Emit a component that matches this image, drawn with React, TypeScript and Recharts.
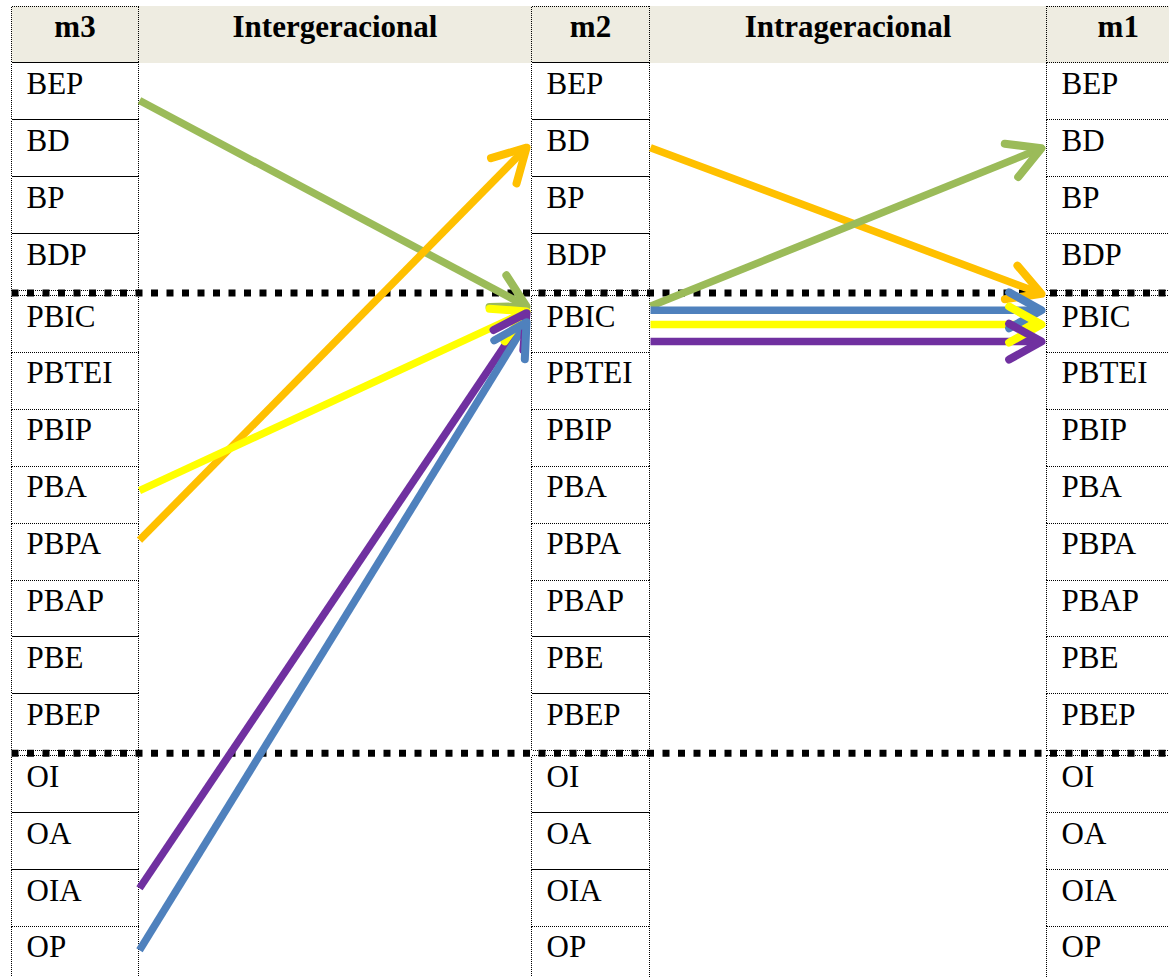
import React from "react";
import { ComposedChart, XAxis, YAxis, Line, ReferenceArea, ReferenceLine } from "recharts";

// Row labels (same in every label column)
const ROWS = [
  "BEP", "BD", "BP", "BDP",
  "PBIC", "PBTEI", "PBIP", "PBA", "PBPA", "PBAP", "PBE", "PBEP",
  "OI", "OA", "OIA", "OP",
];
// thick dashed separator sits above these rows
const GROUP_STARTS = ["PBIC", "OI"];

const LABEL_COLUMNS = ["m3", "m2", "m1"];
const STAGE_COLUMNS = ["Intergeracional", "Intrageracional"];

// Moves: row + position inside the row (0 = top, 1 = bottom)
type Move = { id: string; from: string; fromPos: number; to: string; toPos: number };

const INTER_MOVES: Move[] = [
  { id: "green", from: "BEP", fromPos: 0.66, to: "PBIC", toPos: 0.19 },
  { id: "orange", from: "PBPA", fromPos: 0.3, to: "BD", toPos: 0.49 },
  { id: "yellow", from: "PBA", fromPos: 0.43, to: "PBIC", toPos: 0.28 },
  { id: "purple", from: "OIA", fromPos: 0.33, to: "PBIC", toPos: 0.31 },
  { id: "blue", from: "OP", fromPos: 0.42, to: "PBIC", toPos: 0.47 },
];

const INTRA_MOVES: Move[] = [
  { id: "orange", from: "BD", fromPos: 0.49, to: "PBIC", toPos: -0.03 },
  { id: "green", from: "PBIC", fromPos: 0.19, to: "BD", toPos: 0.5 },
  { id: "blue", from: "PBIC", fromPos: 0.26, to: "PBIC", toPos: 0.26 },
  { id: "yellow", from: "PBIC", fromPos: 0.51, to: "PBIC", toPos: 0.51 },
  { id: "purple", from: "PBIC", fromPos: 0.81, to: "PBIC", toPos: 0.81 },
];

const MOVE_COLORS: Record<string, string> = {
  green: "#9BBB59",
  orange: "#FFC000",
  yellow: "#FFFF00",
  purple: "#7030A0",
  blue: "#4F81BD",
};

// layout
const WIDTH = 1169;
const HEIGHT = 977;
const ROW_PX = 56.9;
const GAP = 5 / ROW_PX;
const Y_MAX = (HEIGHT - 6) / ROW_PX - 1;
const COL_X: Record<string, [number, number]> = {
  m3: [11.5, 138.5],
  Intergeracional: [138.5, 531.5],
  m2: [531.5, 649.5],
  Intrageracional: [649.5, 1046.5],
  m1: [1046.5, 1190],
};
const HEADER_BG = "#EEECE1";
const FONT = "Liberation Serif, Times New Roman, serif";
const FONT_SIZE = 31;

const rowTop = (label: string) => {
  const i = ROWS.indexOf(label);
  const breaks = GROUP_STARTS.filter((g) => ROWS.indexOf(g) <= i).length;
  return i + breaks * GAP;
};

const movePoints = (m: Move, fromCol: string, toCol: string) => [
  { x: COL_X[fromCol][1] + 1, y: rowTop(m.from) + m.fromPos },
  { x: COL_X[toCol][0] - 5, y: rowTop(m.to) + m.toPos },
];

function CellText({ viewBox, text }: any) {
  if (!viewBox) return null;
  return (
    <text x={viewBox.x + 15} y={viewBox.y + 31} fontFamily={FONT} fontSize={FONT_SIZE} fill="#000">
      {text}
    </text>
  );
}

function HeaderText({ viewBox, text }: any) {
  if (!viewBox) return null;
  return (
    <text
      x={viewBox.x + viewBox.width / 2}
      y={viewBox.y + 31}
      textAnchor="middle"
      fontFamily={FONT}
      fontSize={FONT_SIZE}
      fontWeight="bold"
      fill="#000"
    >
      {text}
    </text>
  );
}

// open chevron arrow head drawn on the last point of each move
function ArrowHead(props: any) {
  const { index, points, cx, cy, stroke } = props;
  if (!points || index !== points.length - 1) return <g key={`d-${index}`} />;
  const prev = points[index - 1];
  const ang = Math.atan2(cy - prev.y, cx - prev.x);
  const len = 37;
  const spread = (29 * Math.PI) / 180;
  const a1x = cx - len * Math.cos(ang - spread);
  const a1y = cy - len * Math.sin(ang - spread);
  const a2x = cx - len * Math.cos(ang + spread);
  const a2y = cy - len * Math.sin(ang + spread);
  return (
    <path
      key={`d-${index}`}
      d={`M${a1x},${a1y} L${cx},${cy} L${a2x},${a2y}`}
      fill="none"
      stroke={stroke}
      strokeWidth={8}
      strokeLinecap="round"
      strokeLinejoin="round"
    />
  );
}

export default function App() {
  const sepY = GROUP_STARTS.map((g) => rowTop(g) - GAP / 2);

  return (
    <div
      style={{
        position: "absolute",
        left: 0,
        top: 0,
        width: WIDTH,
        height: HEIGHT,
        overflow: "hidden",
        background: "#fff",
      }}
    >
      <ComposedChart width={WIDTH} height={HEIGHT} margin={{ top: 6, right: 0, bottom: 0, left: 0 }}>
        <XAxis type="number" dataKey="x" domain={[0, WIDTH]} hide allowDataOverflow />
        <YAxis type="number" domain={[-1, Y_MAX]} reversed hide allowDataOverflow />

        {/* header band */}
        <ReferenceArea
          x1={COL_X.m3[0]}
          x2={COL_X.m1[1]}
          y1={-1}
          y2={0}
          fill={HEADER_BG}
          fillOpacity={1}
          stroke="none"
          ifOverflow="visible"
        />
        {STAGE_COLUMNS.map((c) => (
          <ReferenceArea
            key={`h-${c}`}
            x1={COL_X[c][0]}
            x2={COL_X[c][1]}
            y1={-1}
            y2={0}
            fill={HEADER_BG}
            fillOpacity={1}
            stroke="none"
            ifOverflow="visible"
            label={<HeaderText text={c} />}
          />
        ))}
        {LABEL_COLUMNS.map((c) => (
          <ReferenceArea
            key={`h-${c}`}
            x1={COL_X[c][0]}
            x2={COL_X[c][1]}
            y1={-1}
            y2={0}
            fill={HEADER_BG}
            fillOpacity={1}
            stroke="#000"
            strokeWidth={1}
            strokeDasharray="1 1"
            shapeRendering="crispEdges"
            ifOverflow="visible"
            label={<HeaderText text={c} />}
          />
        ))}

        {/* label cells */}
        {LABEL_COLUMNS.map((c) =>
          ROWS.map((r) => (
            <ReferenceArea
              key={`${c}-${r}`}
              x1={COL_X[c][0]}
              x2={COL_X[c][1]}
              y1={rowTop(r)}
              y2={rowTop(r) + 1}
              fill="#fff"
              fillOpacity={1}
              stroke="#000"
              strokeWidth={1}
              strokeDasharray="1 1"
              shapeRendering="crispEdges"
              ifOverflow="visible"
              label={<CellText text={r} />}
            />
          ))
        )}

        {/* group separators */}
        {sepY.map((y, i) => (
          <ReferenceLine
            key={`sep-${i}`}
            segment={[
              { x: COL_X.m3[0], y },
              { x: COL_X.m1[1], y },
            ]}
            stroke="#000"
            strokeWidth={7}
            strokeDasharray="7 8.5"
            ifOverflow="visible"
          />
        ))}

        {INTER_MOVES.map((m, i) => (
          <Line
            key={`inter-${i}`}
            data={movePoints(m, "m3", "m2")}
            dataKey="y"
            type="linear"
            stroke={MOVE_COLORS[m.id]}
            strokeWidth={7.5}
            dot={ArrowHead}
            activeDot={false}
            legendType="none"
            isAnimationActive={false}
          />
        ))}
        {INTRA_MOVES.map((m, i) => (
          <Line
            key={`intra-${i}`}
            data={movePoints(m, "m2", "m1")}
            dataKey="y"
            type="linear"
            stroke={MOVE_COLORS[m.id]}
            strokeWidth={7.5}
            dot={ArrowHead}
            activeDot={false}
            legendType="none"
            isAnimationActive={false}
          />
        ))}
      </ComposedChart>
    </div>
  );
}
